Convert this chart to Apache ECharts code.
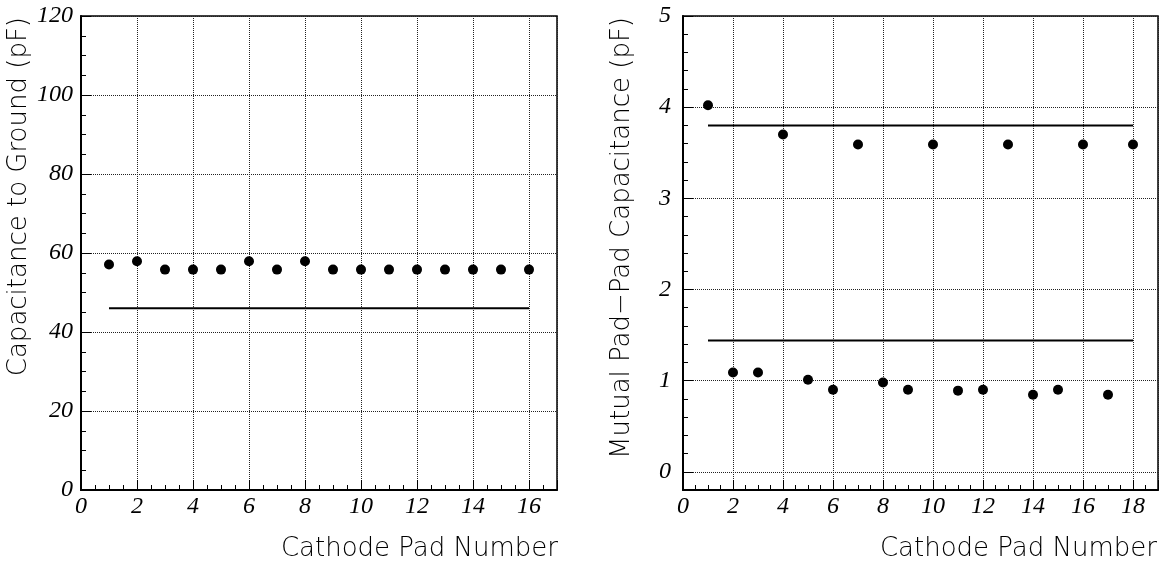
<!DOCTYPE html>
<html>
<head>
<meta charset="utf-8">
<script src="https://cdn.jsdelivr.net/npm/echarts@6/dist/echarts.min.js"></script>
<style>
  html, body { margin: 0; padding: 0; background: #fff; }
  #chart { width: 1163px; height: 569px; }
</style>
</head>
<body>
<div id="chart"></div>
<script>
  // left panel: capacitance to ground
  var padsLeft = [1, 2, 3, 4, 5, 6, 7, 8, 9, 10, 11, 12, 13, 14, 15, 16];
  var groundCap = [57.1, 57.9, 55.8, 55.8, 55.8, 57.9, 55.8, 57.9, 55.8, 55.8, 55.8, 55.8, 55.8, 55.8, 55.8, 55.8];
  var groundLimit = [[1, 46], [16, 46]];

  // right panel: mutual pad-pad capacitance
  var upperPads = [1, 4, 7, 10, 13, 16, 18];
  var upperCap = [4.02, 3.70, 3.59, 3.59, 3.59, 3.59, 3.59];
  var lowerPads = [2, 3, 5, 6, 8, 9, 11, 12, 14, 15, 17];
  var lowerCap = [1.09, 1.09, 1.01, 0.90, 0.98, 0.90, 0.89, 0.90, 0.845, 0.90, 0.845];
  var upperLimit = [[1, 3.8], [18, 3.8]];
  var lowerLimit = [[1, 1.44], [18, 1.44]];

  function zip(xs, ys) {
    return xs.map(function (x, i) { return [x, ys[i]]; });
  }

  var tickFont = {
    fontFamily: 'Liberation Serif',
    fontStyle: 'italic',
    fontSize: 24,
    color: '#000'
  };
  var titleFont = '200 26px "DejaVu Sans"';

  function xAxisCfg(gridIndex, max) {
    return {
      type: 'value', gridIndex: gridIndex, min: 0, max: max, interval: 2,
      axisLine: { onZero: false, lineStyle: { color: '#000', width: 2 } },
      axisTick: { inside: true, length: 10, lineStyle: { color: '#000', width: 1 } },
      minorTick: { show: true, splitNumber: 4, length: 5, lineStyle: { color: '#000' } },
      axisLabel: Object.assign({ margin: 5, showMaxLabel: false }, tickFont),
      splitLine: { show: true, lineStyle: { type: 'dotted', color: '#222', width: 1 } }
    };
  }

  var myChart = echarts.init(document.getElementById('chart'));
  var option = {
    animation: false,
    backgroundColor: '#fff',
    grid: [
      { left: 81, top: 16, width: 476, height: 474, show: true, borderColor: '#000', borderWidth: 1.5 },
      { left: 683, top: 16, width: 475, height: 474, show: true, borderColor: '#000', borderWidth: 1.5 }
    ],
    xAxis: [xAxisCfg(0, 17), xAxisCfg(1, 19)],
    yAxis: [{
      type: 'value', gridIndex: 0, min: 0, max: 120, interval: 20,
      axisLine: { show: true, lineStyle: { color: '#000', width: 2 } },
      axisTick: { show: true, inside: true, length: 10, lineStyle: { color: '#000' } },
      minorTick: { show: true, splitNumber: 4, length: 5, lineStyle: { color: '#000' } },
      axisLabel: Object.assign({ margin: 8 }, tickFont),
      splitLine: { show: true, lineStyle: { type: 'dotted', color: '#222', width: 1 } }
    }, {
      type: 'value', gridIndex: 1, min: -0.2, max: 5, splitNumber: 5,
      axisLine: { show: true, lineStyle: { color: '#000', width: 2 } },
      axisTick: { show: true, inside: true, length: 10, lineStyle: { color: '#000' } },
      minorTick: { show: true, splitNumber: 5, length: 5, lineStyle: { color: '#000' } },
      axisLabel: Object.assign({ margin: 12, showMinLabel: false }, tickFont),
      splitLine: { show: true, lineStyle: { type: 'dotted', color: '#222', width: 1 } }
    }],
    series: [{
      name: 'ground', type: 'scatter', xAxisIndex: 0, yAxisIndex: 0,
      data: zip(padsLeft, groundCap), symbolSize: 10, itemStyle: { color: '#000', opacity: 1 }
    }, {
      name: 'groundLimit', type: 'line', xAxisIndex: 0, yAxisIndex: 0,
      data: groundLimit, showSymbol: false, lineStyle: { color: '#000', width: 2 }
    }, {
      name: 'upper', type: 'scatter', xAxisIndex: 1, yAxisIndex: 1,
      data: zip(upperPads, upperCap), symbolSize: 10, itemStyle: { color: '#000', opacity: 1 }
    }, {
      name: 'lower', type: 'scatter', xAxisIndex: 1, yAxisIndex: 1,
      data: zip(lowerPads, lowerCap), symbolSize: 10, itemStyle: { color: '#000', opacity: 1 }
    }, {
      name: 'upperLimit', type: 'line', xAxisIndex: 1, yAxisIndex: 1,
      data: upperLimit, showSymbol: false, lineStyle: { color: '#000', width: 2 }
    }, {
      name: 'lowerLimit', type: 'line', xAxisIndex: 1, yAxisIndex: 1,
      data: lowerLimit, showSymbol: false, lineStyle: { color: '#000', width: 2 }
    }],
    // axis titles, right-aligned at the axis end like the original
    graphic: [{
      type: 'text', x: 19, y: 17, rotation: Math.PI / 2,
      style: { text: 'Capacitance to Ground (pF)', font: titleFont, fill: '#000', align: 'right', verticalAlign: 'middle' }
    }, {
      type: 'text', x: 622, y: 17, rotation: Math.PI / 2,
      style: { text: 'Mutual Pad\u2212Pad Capacitance (pF)', font: titleFont, fill: '#000', align: 'right', verticalAlign: 'middle' }
    }, {
      type: 'text', x: 558, y: 549,
      style: { text: 'Cathode Pad Number', font: titleFont, fill: '#000', align: 'right', verticalAlign: 'middle' }
    }, {
      type: 'text', x: 1157, y: 549,
      style: { text: 'Cathode Pad Number', font: titleFont, fill: '#000', align: 'right', verticalAlign: 'middle' }
    }]
  };
  myChart.setOption(option);
</script>
</body>
</html>
